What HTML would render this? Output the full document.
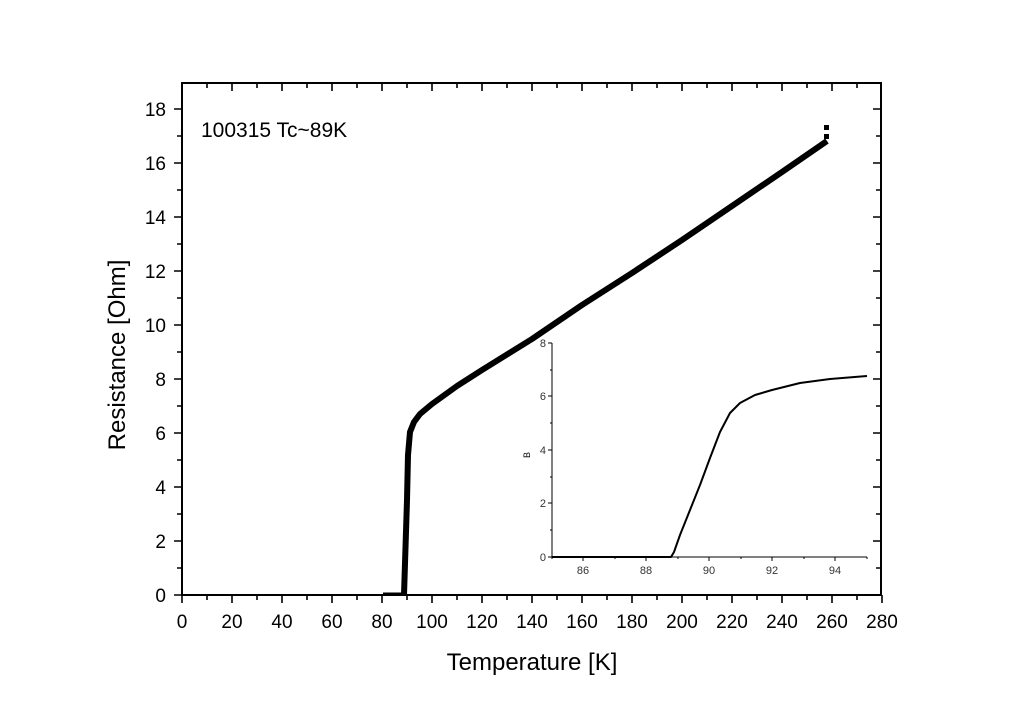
<!DOCTYPE html>
<html><head><style>body{margin:0;background:#fff}svg{display:block}</style></head><body>
<svg width="1024" height="714" xmlns="http://www.w3.org/2000/svg" font-family="Liberation Sans, Arial, sans-serif">
<rect width="1024" height="714" fill="#fff"/>
<g stroke="#000" stroke-width="2" fill="none">
<rect x="182" y="83" width="699" height="512"/>
</g>
<g stroke="#000" stroke-width="1.6" fill="none">
<path d="M182 595v8M232 595v8M282 595v8M332 595v8M382 595v8M432 595v8M482 595v8M532 595v8M582 595v8M632 595v8M682 595v8M732 595v8M782 595v8M832 595v8M882 595v8"/>
<path d="M207 595v5M257 595v5M307 595v5M357 595v5M407 595v5M457 595v5M507 595v5M557 595v5M607 595v5M657 595v5M707 595v5M757 595v5M807 595v5M857 595v5"/>
<path d="M182 83v8M232 83v8M282 83v8M332 83v8M382 83v8M432 83v8M482 83v8M532 83v8M582 83v8M632 83v8M682 83v8M732 83v8M782 83v8M832 83v8"/>
<path d="M207 83v5M257 83v5M307 83v5M357 83v5M407 83v5M457 83v5M507 83v5M557 83v5M607 83v5M657 83v5M707 83v5M757 83v5M807 83v5M857 83v5"/>
<path d="M174 595h8M174 541h8M174 487h8M174 433h8M174 379h8M174 325h8M174 271h8M174 217h8M174 163h8M174 109h8"/>
<path d="M177 568h5M177 514h5M177 460h5M177 406h5M177 352h5M177 298h5M177 244h5M177 190h5M177 136h5"/>
<path d="M873 541h8M873 487h8M873 433h8M873 379h8M873 325h8M873 271h8M873 217h8M873 163h8M873 109h8"/>
<path d="M876 568h5M876 514h5M876 460h5M876 406h5M876 352h5M876 298h5M876 244h5M876 190h5M876 136h5"/>
</g>
<g font-size="19" text-anchor="middle" fill="#000">
<text x="182" y="628">0</text><text x="232" y="628">20</text><text x="282" y="628">40</text><text x="332" y="628">60</text><text x="382" y="628">80</text><text x="432" y="628">100</text><text x="482" y="628">120</text><text x="532" y="628">140</text><text x="582" y="628">160</text><text x="632" y="628">180</text><text x="682" y="628">200</text><text x="732" y="628">220</text><text x="782" y="628">240</text><text x="832" y="628">260</text><text x="882" y="628">280</text>
</g>
<g font-size="19" text-anchor="end" fill="#000">
<text x="166" y="602">0</text><text x="166" y="548">2</text><text x="166" y="494">4</text><text x="166" y="440">6</text><text x="166" y="386">8</text><text x="166" y="332">10</text><text x="166" y="278">12</text><text x="166" y="224">14</text><text x="166" y="170">16</text><text x="166" y="116">18</text>
</g>
<text x="532" y="670" font-size="24" text-anchor="middle">Temperature [K]</text>
<text transform="translate(125,355) rotate(-90)" font-size="24" text-anchor="middle">Resistance [Ohm]</text>
<text x="201" y="137" font-size="21">100315 Tc~89K</text>
<path d="M383 594H403" stroke="#000" stroke-width="3" fill="none"/>
<path d="M404 595L407 500L408 455L410 432L414 422L420 414L432 404L457 386L482 370L532 339L582 305L632 273L682 240L732 206L782 172L827 141" stroke="#000" stroke-width="6" fill="none" stroke-linejoin="round"/>
<rect x="824" y="125" width="5" height="5"/><rect x="824" y="134" width="5" height="5"/>
<g stroke="#000" stroke-width="1" fill="none">
<path d="M552 343V557H867"/>
<path d="M548 557h4M548 503h4M548 450h4M548 396h4M548 343h4M550 530h2M550 477h2M550 423h2M550 370h2"/>
<path d="M583 557v4M646 557v4M709 557v4M772 557v4M835 557v4M552 557v2M615 557v2M678 557v2M741 557v2M804 557v2M867 557v2"/>
</g>
<g font-size="11" fill="#333" text-anchor="end">
<text x="546" y="561">0</text><text x="546" y="507">2</text><text x="546" y="454">4</text><text x="546" y="400">6</text><text x="546" y="347">8</text>
</g>
<g font-size="11" fill="#333" text-anchor="middle">
<text x="583" y="574">86</text><text x="646" y="574">88</text><text x="709" y="574">90</text><text x="772" y="574">92</text><text x="835" y="574">94</text>
</g>
<text transform="translate(530,455) rotate(-90)" font-size="9" text-anchor="middle">B</text>
<path d="M552 557H671L674 552L680 535L690 510L700 485L710 458L720 432L730 413L740 403L755 395L772 390L800 383L830 379L867 376" stroke="#000" stroke-width="2" fill="none" stroke-linejoin="round"/>
</svg>
</body></html>
